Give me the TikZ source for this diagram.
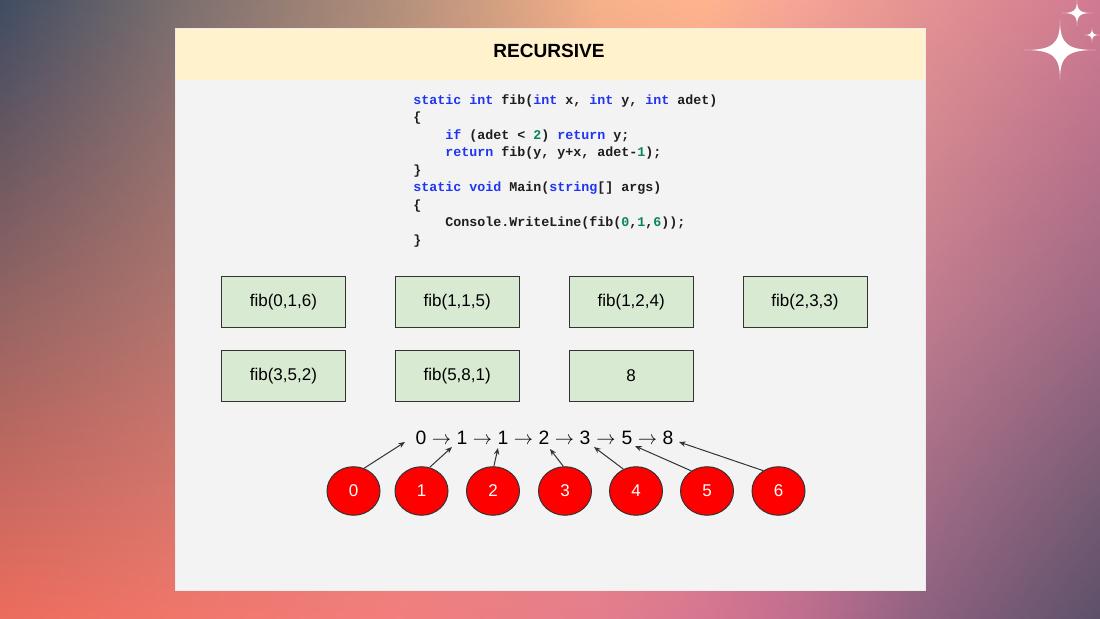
\documentclass[tikz,border=0pt]{standalone}
\usepackage{fontspec}
\setmainfont{Liberation Sans}
\newfontfamily\codefont{Liberation Mono}
\usetikzlibrary{shapes.geometric,arrows.meta}
% background key colours (top / middle / bottom rows)
\definecolor{T0}{HTML}{3F4C62}\definecolor{M0}{HTML}{946462}\definecolor{B0}{HTML}{EC6C5D}
\definecolor{T1}{HTML}{7A6E6E}\definecolor{M1}{HTML}{B0736D}\definecolor{B1}{HTML}{F0766A}
\definecolor{T2}{HTML}{B3907B}\definecolor{M2}{HTML}{D08A7A}\definecolor{B2}{HTML}{F27E7D}
\definecolor{T3}{HTML}{F6B189}\definecolor{M3}{HTML}{E08F86}\definecolor{B3}{HTML}{E47E8C}
\definecolor{T4}{HTML}{FFB48C}\definecolor{M4}{HTML}{D88890}\definecolor{B4}{HTML}{D87690}
\definecolor{T5}{HTML}{F5A495}\definecolor{M5}{HTML}{CC8090}\definecolor{B5}{HTML}{C06E8F}
\definecolor{T6}{HTML}{E49292}\definecolor{M6}{HTML}{C07C8E}\definecolor{B6}{HTML}{8E6180}
\definecolor{T7}{HTML}{D07A92}\definecolor{M7}{HTML}{9E6883}\definecolor{B7}{HTML}{5C5169}
\definecolor{headfill}{HTML}{FFF2CC}
\definecolor{bodyfill}{HTML}{F3F3F3}
\definecolor{boxfill}{HTML}{D9EAD3}
\definecolor{edgecol}{HTML}{333333}
\definecolor{kwblue}{HTML}{1F35F5}
\definecolor{numgreen}{HTML}{098658}
\definecolor{codetext}{HTML}{1E1E1E}
\newcommand\bgseg[8]{%
  \pgfmathtruncatemacro\segn{(#2-#1)/5-1}%
  \foreach \k in {0,...,\segn}{%
    \pgfmathsetmacro\segp{100-100*(\k+0.5)/(\segn+1)}%
    \pgfmathsetmacro\segx{#1+5*\k}%
    \fill[top color=#3!\segp!#4, bottom color=#7!\segp!#8, middle color=#5!\segp!#6]
      (\segx,0) rectangle ++(5.8,618);
  }}
\newcommand\kw[1]{\textcolor{kwblue}{#1}}
\newcommand\nm[1]{\textcolor{numgreen}{#1}}
\newcommand\ind{\phantom{0000}}
\begin{document}
\begin{tikzpicture}[x=0.75pt,y=0.75pt,
  codeline/.style={anchor=base west,inner sep=0pt,text=codetext,
    font=\codefont\bfseries\fontsize{10}{12}\selectfont},
  fibbox/.style={draw=edgecol,line width=0.75pt,fill=boxfill,
    minimum width=93pt,minimum height=37.9pt,inner sep=0pt,
    font=\fontsize{12.75}{15}\selectfont},
  seqtext/.style={anchor=base,inner sep=0pt,font=\fontsize{14.5}{17}\selectfont},
  redball/.style={ellipse,draw=edgecol,line width=0.75pt,fill=red,text=white,
    minimum width=39.75pt,minimum height=36.4pt,inner sep=0pt,
    font=\fontsize{12.75}{15}\selectfont},
  pointer/.style={draw=edgecol,line width=0.75pt,-{Stealth[length=5pt,width=4pt]}},
  sparkle/.style={fill=white}]
\useasboundingbox (0,0) rectangle (1100,618);
\clip (0,0) rectangle (1100,618);
% background
\bgseg{0}{175}{T0}{T1}{M0}{M1}{B0}{B1}
\bgseg{175}{400}{T1}{T2}{M1}{M2}{B1}{B2}
\bgseg{400}{600}{T2}{T3}{M2}{M3}{B2}{B3}
\bgseg{600}{700}{T3}{T4}{M3}{M4}{B3}{B4}
\bgseg{700}{800}{T4}{T5}{M4}{M5}{B4}{B5}
\bgseg{800}{925}{T5}{T6}{M5}{M6}{B5}{B6}
\bgseg{925}{1100}{T6}{T7}{M6}{M7}{B6}{B7}
% sparkles
\foreach \cx/\cy/\a/\b in {1060/568/36/30, 1077/605/15/13, 1092/583/8/7}{
  \fill[sparkle] (\cx+\a,\cy) .. controls (\cx+0.2*\a,\cy) and (\cx,\cy+0.2*\b) .. (\cx,\cy+\b)
    .. controls (\cx,\cy+0.2*\b) and (\cx-0.2*\a,\cy) .. (\cx-\a,\cy)
    .. controls (\cx-0.2*\a,\cy) and (\cx,\cy-0.2*\b) .. (\cx,\cy-\b)
    .. controls (\cx,\cy-0.2*\b) and (\cx+0.2*\a,\cy) .. (\cx+\a,\cy) -- cycle;
}
% panel
\fill[bodyfill] (175,28) rectangle (925,590);
\fill[headfill] (175,538) rectangle (925,590);
\draw[white!85!gray,line width=0.6pt] (175,28) rectangle (925,590);
\node[font=\bfseries\fontsize{14.3}{17}\selectfont,inner sep=0pt] (title) at (549,567) {RECURSIVE};
% code
\node[codeline] (code1) at (413,513.5) {\kw{static} \kw{int} fib(\kw{int} x, \kw{int} y, \kw{int} adet)};
\node[codeline] (code2) at (413,496) {\{};
\node[codeline] (code3) at (413,478.5) {\ind\kw{if} (adet < \nm{2}) \kw{return} y;};
\node[codeline] (code4) at (413,461) {\ind\kw{return} fib(y, y+x, adet-\nm{1});};
\node[codeline] (code5) at (413,443.5) {\}};
\node[codeline] (code6) at (413,426) {\kw{static} \kw{void} Main(\kw{string}[] args)};
\node[codeline] (code7) at (413,408.5) {\{};
\node[codeline] (code8) at (413,391) {\ind Console.WriteLine(fib(\nm{0},\nm{1},\nm{6}));};
\node[codeline] (code9) at (413,373.5) {\}};
% call boxes
\node[fibbox] (f1) at (283.4,316) {fib(0,1,6)};
\node[fibbox] (f2) at (457.2,316) {fib(1,1,5)};
\node[fibbox] (f3) at (631.2,316) {fib(1,2,4)};
\node[fibbox] (f4) at (805,316) {fib(2,3,3)};
\node[fibbox] (f5) at (283.4,242) {fib(3,5,2)};
\node[fibbox] (f6) at (457.2,242) {fib(5,8,1)};
\node[fibbox] (f7) at (631.2,242) {8};
% sequence
\foreach \n/\x/\t in {0/421/0,1/462/1,2/503/1,3/544/2,4/585/3,5/627/5,6/668/8}{
  \node[seqtext] (d\n) at (\x,173) {\t};
}
\foreach \n/\x in {1/441.5,2/482.5,3/523.5,4/564.5,5/606,6/647.5}{
  \node[seqtext] (r\n) at (\x,173) {$\rightarrow$};
}
% index balls
\foreach \n/\x in {0/353.5,1/421.5,2/493,3/565,4/636,5/707,6/778.5}{
  \node[redball] (c\n) at (\x,127) {\n};
}
% pointer targets
\coordinate (t0) at (405,176);
\coordinate (t1) at (452,171);
\coordinate (t2) at (498,170);
\coordinate (t3) at (550,169);
\coordinate (t4) at (594,171);
\coordinate (t5) at (635,172);
\coordinate (t6) at (679,176);
\draw[pointer] (c0.65) -- (t0);
\draw[pointer] (c1.71) -- (t1);
\draw[pointer] (c2.88) -- (t2);
\draw[pointer] (c3.94) -- (t3);
\draw[pointer] (c4.120) -- (t4);
\draw[pointer] (c5.128) -- (t5);
\draw[pointer] (c6.127) -- (t6);
\end{tikzpicture}
\end{document}
